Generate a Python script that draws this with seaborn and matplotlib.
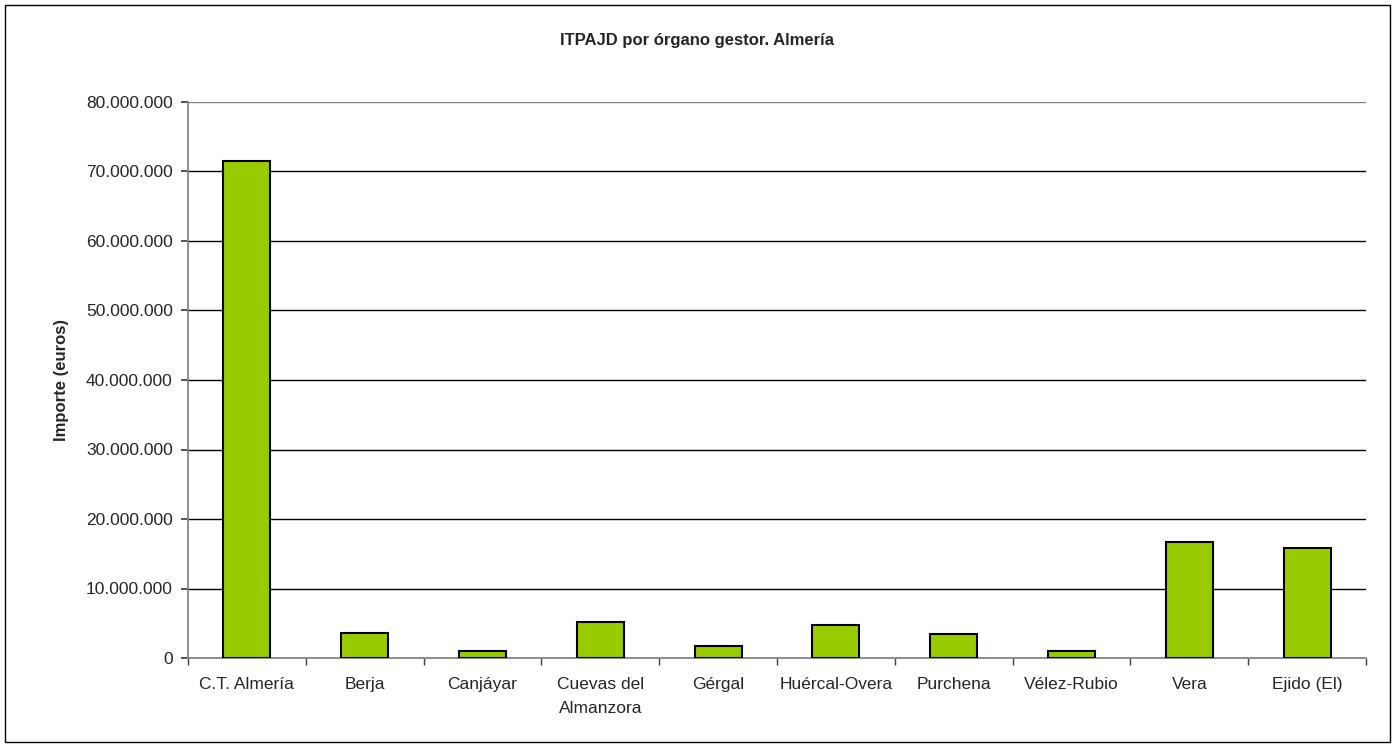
import matplotlib.pyplot as plt
import pandas as pd
import seaborn as sns
from matplotlib.ticker import FuncFormatter, MultipleLocator
from matplotlib.patches import Rectangle

sns.set_theme(style="white")
plt.rcParams['font.family'] = ['Liberation Sans Narrow', 'Liberation Sans', 'DejaVu Sans']

organos = ["C.T. Almería", "Berja", "Canjáyar", "Cuevas del\nAlmanzora", "Gérgal",
           "Huércal-Overa", "Purchena", "Vélez-Rubio", "Vera", "Ejido (El)"]
importes = [71500000, 3650000, 1030000, 5230000, 1700000,
            4760000, 3400000, 1030000, 16740000, 15800000]

df = pd.DataFrame({"organo": organos, "importe": importes})

fig = plt.figure(figsize=(13.95, 7.47), dpi=100)
ax = fig.add_axes([188 / 1395, 1 - 658 / 747, (1366 - 188) / 1395, (658 - 102) / 747])

sns.barplot(data=df, x="organo", y="importe", color="#99cc00", width=0.4,
            edgecolor="black", linewidth=1.5, saturation=1, ax=ax, zorder=3)

ax.set_ylim(0, 80000000)
ax.set_xlim(-0.5, len(organos) - 0.5)
ax.yaxis.set_major_locator(MultipleLocator(10000000))
ax.yaxis.set_major_formatter(FuncFormatter(lambda v, p: f"{int(v):,}".replace(",", ".")))
for y in range(10000000, 80000001, 10000000):
    ax.axhline(y, color="black" if y < 80000000 else "#808080", lw=1, zorder=1)

ax.set_xticks([i - 0.5 for i in range(len(organos) + 1)], minor=True)
ax.set_xticks(range(len(organos)))
ax.set_xticklabels(organos, fontsize=12.5, linespacing=1.75)
ax.tick_params(axis="x", which="major", length=0, pad=14)
ax.tick_params(axis="x", which="minor", length=5, direction="out", color="#404040", bottom=True)
ax.tick_params(axis="y", length=5, direction="out", color="#404040", left=True,
               labelsize=12.5, pad=6)

for side in ["top", "right"]:
    ax.spines[side].set_visible(False)
ax.spines["left"].set_color("#808080")
ax.spines["bottom"].set_color("#808080")

ax.set_xlabel("")
ax.set_ylabel("Importe (euros)", fontsize=12, fontweight="bold", labelpad=12)
fig.text(697 / 1395, 1 - 40 / 747, "ITPAJD por órgano gestor. Almería",
         ha="center", va="center", fontsize=12, fontweight="bold")

fig.patches.append(Rectangle((5 / 1395, 5 / 747), 1 - 10 / 1395, 1 - 10 / 747,
                             transform=fig.transFigure, fill=False, edgecolor="black", lw=1))

fig.savefig("out.png", dpi=100)
